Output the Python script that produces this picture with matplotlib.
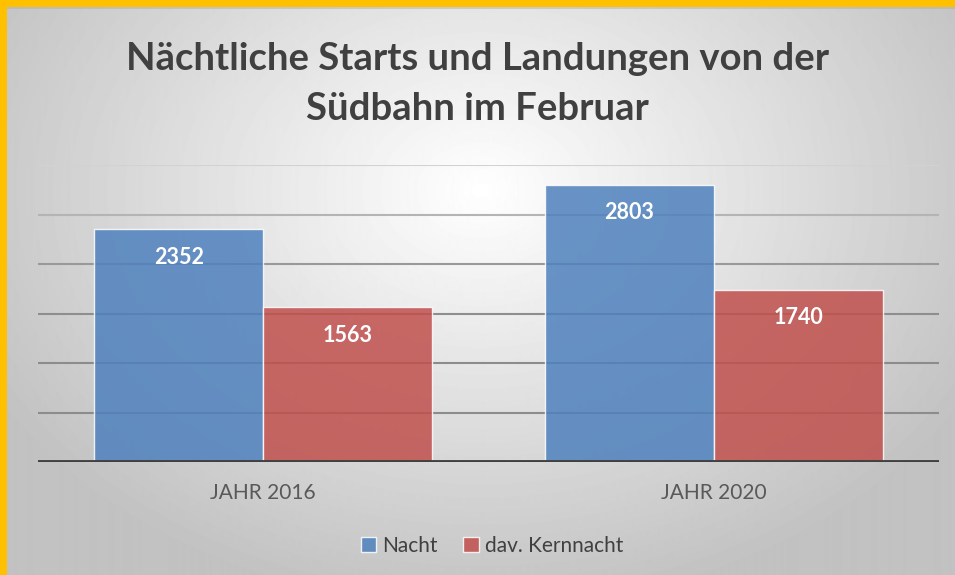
import numpy as np
import matplotlib.pyplot as plt
from matplotlib.patches import Rectangle

plt.rcParams['font.family'] = ['Lato', 'DejaVu Sans']

categories = ['JAHR 2016', 'JAHR 2020']
nacht = [2352, 2803]
kernnacht = [1563, 1740]
series_names = ['Nacht', 'dav. Kernnacht']
title = 'Nächtliche Starts und Landungen von der\nSüdbahn im Februar'

W, H = 955, 575
fig = plt.figure(figsize=(W / 100, H / 100), dpi=100, facecolor='#cfcfcf')

# radial grey background
bg = fig.add_axes([0, 0, 1, 1])
yy, xx = np.mgrid[0:H, 0:W]
r = np.sqrt(((xx - 480) / 560.0) ** 2 + ((yy - 190) / 420.0) ** 2)
shade = np.clip(1.0 - 0.24 * r, 0.76, 1.0)
bg.imshow(shade, cmap='gray', vmin=0, vmax=1, aspect='auto', extent=[0, W, H, 0])
bg.set_xlim(0, W)
bg.set_ylim(H, 0)
bg.axis('off')

# yellow frame on top and left only
fig.patches.append(Rectangle((0, 1 - 7 / H), 1, 7 / H, transform=fig.transFigure,
                             color='#FFC000', lw=0, zorder=5))
fig.patches.append(Rectangle((0, 1 - 9 / H), 1, 2 / H, transform=fig.transFigure,
                             color='#b0b0b0', lw=0, alpha=0.5, zorder=5))
fig.patches.append(Rectangle((0, 0), 7 / W, 1, transform=fig.transFigure,
                             color='#FFC000', lw=0, zorder=5))

ax = fig.add_axes([38 / W, 1 - 462 / H, (939 - 38) / W, (462 - 165) / H])
ax.patch.set_alpha(0)

x = np.arange(len(categories))
w = 0.375
b1 = ax.bar(x - w / 2, nacht, w, color='#4F81BD', alpha=0.85,
            edgecolor=(1, 1, 1, 0.6), linewidth=1, label=series_names[0], zorder=2)
b2 = ax.bar(x + w / 2, kernnacht, w, color='#C0504D', alpha=0.85,
            edgecolor=(1, 1, 1, 0.6), linewidth=1, label=series_names[1], zorder=2)

for bars in (b1, b2):
    for rect in bars:
        ax.annotate(str(int(rect.get_height())),
                    (rect.get_x() + rect.get_width() / 2, rect.get_height()),
                    xytext=(0, -28), textcoords='offset pixels',
                    ha='center', va='center', color='white', fontsize=15.5,
                    fontweight='bold', zorder=3)

ax.set_xlim(-0.5, 1.5)
ax.set_ylim(0, 3000)
ax.set_yticks(np.arange(0, 3001, 500))
ax.set_yticklabels([])
ax.tick_params(axis='y', length=0)
ax.tick_params(axis='x', length=0, pad=15, labelsize=15, labelcolor='#595959')
ax.set_xticks(x)
ax.set_xticklabels(categories)
for s in ax.spines.values():
    s.set_visible(False)

grid_cols = ['#8c8c8c', '#8c8c8c', '#8e8e8e', '#999999', '#b4b4b4', '#d2d2d2']
for val, c in zip(np.arange(500, 3001, 500), grid_cols):
    ax.axhline(val, color=c, lw=1.5, zorder=1)
ax.axhline(0, color='#404040', lw=3.5, zorder=4)

fig.text(0.5, 1 - 84 / H, title, ha='center', va='center', fontsize=27.5,
         fontweight='bold', color='#404040', linespacing=1.55)

fig.legend(handles=[b1, b2], labels=series_names, loc='center',
           bbox_to_anchor=(492 / W, 1 - 546 / H), ncol=2, frameon=False,
           fontsize=15, handlelength=0.75, handleheight=0.75, handletextpad=0.3,
           columnspacing=1.2, labelcolor='#404040')

fig.savefig('out.png', dpi=100, facecolor=fig.get_facecolor())
